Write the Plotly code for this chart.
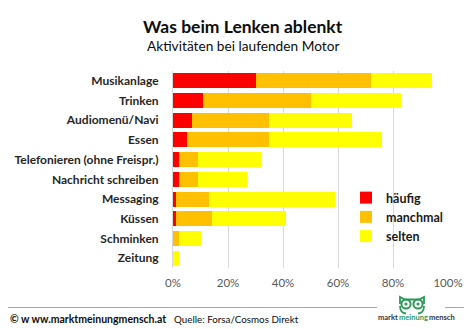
import plotly.graph_objects as go

# Survey data: share of drivers per activity (percent)
categories = ["Musikanlage", "Trinken", "Audiomenü/Navi", "Essen",
              "Telefonieren (ohne Freispr.)", "Nachricht schreiben",
              "Messaging", "Küssen", "Schminken", "Zeitung"]
haeufig = [30, 11, 7, 5, 2, 2, 1, 1, 0, 0]
manchmal = [42, 39, 28, 30, 7, 7, 12, 13, 2, 0]
selten = [22, 33, 30, 41, 23, 18, 46, 27, 8, 2]

series_names = ["häufig", "manchmal", "selten"]
series_colors = ["#FF0000", "#FFC000", "#FFFF00"]
tick_vals = [0, 20, 40, 60, 80, 100]
tick_text = ["0%", "20%", "40%", "60%", "80%", "100%"]

W, H = 464, 329
L, R, T, B = 173, 16, 71, 61

fig = go.Figure()
for name, vals, col in zip(series_names, [haeufig, manchmal, selten], series_colors):
    fig.add_trace(go.Bar(
        y=categories, x=vals, name=name, orientation="h",
        marker=dict(color=col, line=dict(width=0)),
        hoverinfo="x+y+name",
    ))

font_main = "Lato, Noto Sans, sans-serif"

plot_w = W - L - R
plot_h = H - T - B


def px_x(px):
    return (px - L) / plot_w


def px_y(py):
    return (H - B - py) / plot_h


fig.update_layout(
    width=W, height=H,
    margin=dict(l=L, r=R, t=T, b=B, autoexpand=False),
    barmode="stack", bargap=0.24,
    plot_bgcolor="white", paper_bgcolor="white",
    font=dict(family=font_main, color="#262626"),
    showlegend=True,
    legend=dict(
        x=px_x(346), y=px_y(183), xanchor="left", yanchor="top",
        traceorder="normal", bgcolor="rgba(0,0,0,0)",
        font=dict(size=12.5, color="#1a1a1a", family=font_main, weight="bold"),
        itemwidth=30, tracegroupgap=0,
    ),
    xaxis=dict(
        range=[0, 100], tickvals=tick_vals, ticktext=tick_text,
        showgrid=True, gridcolor="#D9D9D9", gridwidth=1,
        zeroline=False, showline=False, ticks="",
        tickfont=dict(size=11.5, color="#595959"),
        ticklabelstandoff=6, fixedrange=True,
    ),
    yaxis=dict(
        autorange="reversed", showgrid=False, zeroline=False,
        showline=True, linecolor="#D9D9D9", linewidth=1, ticks="",
        tickfont=dict(size=12, color="#262626", weight="bold"),
        ticklabelstandoff=11,
    ),
)

# Title and subtitle
fig.add_annotation(text="<b>Was beim Lenken ablenkt</b>", xref="paper", yref="paper",
                   x=px_x(243), y=px_y(26), showarrow=False,
                   font=dict(size=17.5, color="#0d0d0d"),
                   xanchor="center", yanchor="middle")
fig.add_annotation(text="Aktivitäten bei laufenden Motor", xref="paper", yref="paper",
                   x=px_x(243), y=px_y(46), showarrow=False,
                   font=dict(size=13.7, color="#0d0d0d"),
                   xanchor="center", yanchor="middle")

# Footer rule lines
for x0, x1 in ((8, 377), (445, 464)):
    fig.add_shape(type="line", xref="paper", yref="paper",
                  x0=px_x(x0), x1=px_x(x1), y0=px_y(307.5), y1=px_y(307.5),
                  line=dict(color="#A6A6A6", width=1))

# Footer texts
fig.add_annotation(text="<b>© w ww.marktmeinungmensch.at</b>", xref="paper", yref="paper",
                   x=px_x(8), y=px_y(318.5), xanchor="left", yanchor="middle",
                   showarrow=False, font=dict(size=10.5, color="#0d0d0d"))
fig.add_annotation(text="Quelle: Forsa/Cosmos Direkt", xref="paper", yref="paper",
                   x=px_x(172), y=px_y(318.5), xanchor="left", yanchor="middle",
                   showarrow=False, font=dict(size=9.8, color="#0d0d0d"))

# Owl logo
green = "#2E9A5A"
for cx in (406, 418):
    fig.add_shape(type="circle", xref="paper", yref="paper",
                  x0=px_x(cx - 4.6), x1=px_x(cx + 4.6), y0=px_y(308.6), y1=px_y(299.4),
                  line=dict(color=green, width=2), fillcolor="white")
    fig.add_shape(type="circle", xref="paper", yref="paper",
                  x0=px_x(cx - 1.6), x1=px_x(cx + 1.6), y0=px_y(305.6), y1=px_y(302.4),
                  line=dict(width=0), fillcolor=green)
head = (f"M {px_x(400)},{px_y(304)} L {px_x(400)},{px_y(297)} L {px_x(405)},{px_y(299.5)} "
        f"L {px_x(419)},{px_y(299.5)} L {px_x(424)},{px_y(297)} L {px_x(424)},{px_y(304)}")
fig.add_shape(type="path", xref="paper", yref="paper", path=head,
              line=dict(color=green, width=1.8))
body = (f"M {px_x(400)},{px_y(306)} Q {px_x(400)},{px_y(313)} {px_x(406)},{px_y(313.5)} "
        f"M {px_x(424)},{px_y(306)} Q {px_x(424)},{px_y(313)} {px_x(418)},{px_y(313.5)}")
fig.add_shape(type="path", xref="paper", yref="paper", path=body,
              line=dict(color=green, width=1.8))

# Logo wordmark
logo_font = dict(size=7.5, color="#333333")
fig.add_annotation(text="<b>markt</b>", xref="paper", yref="paper",
                   x=px_x(400), y=px_y(317.5), xanchor="right", yanchor="middle",
                   showarrow=False, font=logo_font)
fig.add_annotation(text="<b>meinung</b>", xref="paper", yref="paper",
                   x=px_x(413.5), y=px_y(317.5), xanchor="center", yanchor="middle",
                   showarrow=False, font=dict(size=7.5, color=green))
fig.add_annotation(text="<b>mensch</b>", xref="paper", yref="paper",
                   x=px_x(427), y=px_y(317.5), xanchor="left", yanchor="middle",
                   showarrow=False, font=logo_font)

fig.write_html("out.html")
